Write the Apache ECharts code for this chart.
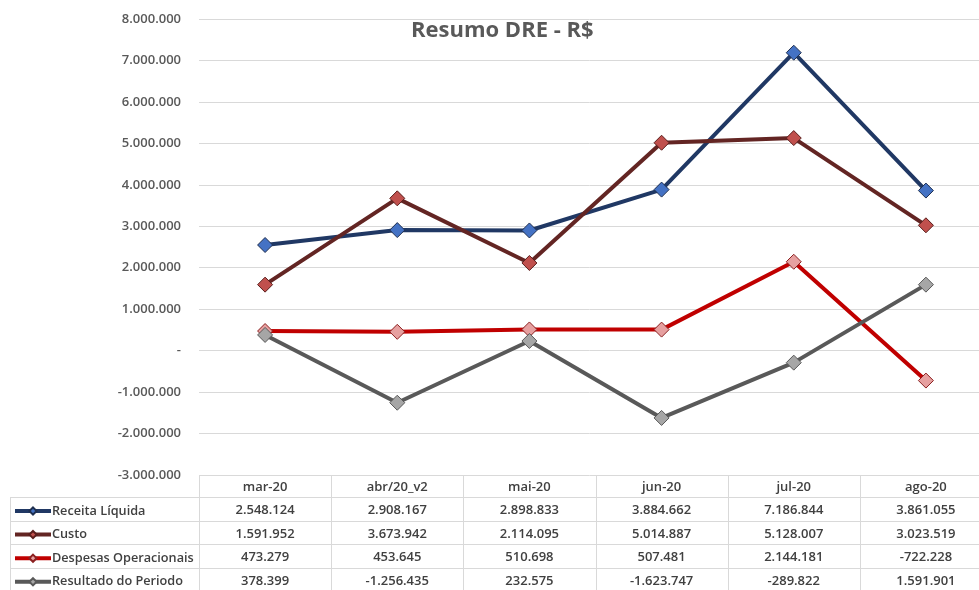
<!DOCTYPE html>
<html>
<head>
<meta charset="utf-8">
<script src="https://cdn.jsdelivr.net/npm/echarts@6/dist/echarts.min.js"></script>
<style>html,body{margin:0;padding:0;background:#fff;}#c{width:979px;height:590px;}</style>
</head>
<body>
<div id="c"></div>
<script>
const categories = ['mar-20', 'abr/20_v2', 'mai-20', 'jun-20', 'jul-20', 'ago-20'];
const seriesNames = ['Receita Líquida', 'Custo', 'Despesas Operacionais', 'Resultado do Periodo'];
const receita = [2548124, 2908167, 2898833, 3884662, 7186844, 3861055];
const custo = [1591952, 3673942, 2114095, 5014887, 5128007, 3023519];
const despesas = [473279, 453645, 510698, 507481, 2144181, -722228];
const resultado = [378399, -1256435, 232575, -1623747, -289822, 1591901];
const yMin = -3000000, yMax = 8000000, yInterval = 1000000;
const titleText = 'Resumo DRE - R$';

const allSeries = [receita, custo, despesas, resultado];
const lineColors = ['#203864', '#632523', '#C00000', '#595959'];
const markerFill = ['#4472C4', '#C0504D', '#E6A0A0', '#A6A6A6'];
const markerBorder = ['#1F2F4F', '#5A1E1C', '#8B2020', '#595959'];
const FONT = 'Open Sans';
const ROW = 23.6;
const LEG_H = 9;

function fmt(v) {
  if (v === 0) return '-';
  const s = Math.abs(v).toString().replace(/\B(?=(\d{3})+(?!\d))/g, '.');
  return (v < 0 ? '-' : '') + s;
}

const chart = echarts.init(document.getElementById('c'));
const option = {
  animation: false,
  backgroundColor: '#fff',
  title: {
    text: titleText, left: 406, top: 15,
    textStyle: { fontFamily: FONT, fontSize: 22, fontWeight: 'bold', color: '#595959' }
  },
  grid: { left: 199, top: 19, width: 793, height: 456, containLabel: false, outerBoundsMode: 'none' },
  legend: seriesNames.map((n, i) => ({
    orient: 'vertical', left: 13, top: 510 + ROW * i - 5.5, padding: 0,
    itemWidth: 36, itemHeight: LEG_H,
    data: [n],
    lineStyle: { width: 4 },
    textStyle: { fontFamily: FONT, fontSize: 12.7, color: '#404040', fontWeight: 600, padding: [0, 0, 0, -4] }
  })),
  xAxis: {
    type: 'category', data: categories, boundaryGap: true,
    axisLine: { show: false }, axisTick: { show: false },
    axisLabel: {
      margin: 0, interval: 0,
      formatter: function (val, idx) {
        const lines = ['{v|' + val + '}'];
        allSeries.forEach(s => lines.push('{v|' + fmt(s[idx]) + '}'));
        return lines.join('\n');
      },
      rich: { v: { fontFamily: FONT, fontSize: 13, fontWeight: 600, color: '#404040', lineHeight: ROW, height: ROW } }
    }
  },
  yAxis: {
    type: 'value', min: yMin, max: yMax, interval: yInterval,
    axisLine: { show: false }, axisTick: { show: false },
    axisLabel: { margin: 18, formatter: fmt, fontFamily: FONT, fontSize: 13, fontWeight: 600, color: '#595959' },
    splitLine: { lineStyle: { color: '#D9D9D9', width: 1 } }
  },
  series: allSeries.map((d, i) => ({
    name: seriesNames[i], type: 'line', data: d,
    symbol: 'diamond', symbolSize: 15,
    lineStyle: { color: lineColors[i], width: 4 },
    itemStyle: { color: markerFill[i], borderColor: markerBorder[i], borderWidth: 1 },
    z: 2 + i
  }))
};
chart.setOption(option);

// table borders derived from axis scales
const yBottom = chart.convertToPixel({ yAxisIndex: 0 }, yMin);
const c0 = chart.convertToPixel({ xAxisIndex: 0 }, 0);
const c1 = chart.convertToPixel({ xAxisIndex: 0 }, 1);
const step = c1 - c0;
const gridLeft = c0 - step / 2;
const gridRight = gridLeft + step * categories.length;
const tableLeft = 10;
const tableBottom = 590;
const graphics = [];
const lineStyle = { stroke: '#D9D9D9', lineWidth: 1 };
for (let r = 1; r <= seriesNames.length; r++) {
  const y = Math.round(yBottom + ROW * r - 1.5) + 0.5;
  graphics.push({ type: 'line', shape: { x1: tableLeft, y1: y, x2: gridRight, y2: y }, style: lineStyle, silent: true });
}
for (let k = 0; k <= categories.length; k++) {
  const x = Math.round(gridLeft + step * k) + 0.5;
  graphics.push({ type: 'line', shape: { x1: x, y1: yBottom, x2: x, y2: tableBottom }, style: lineStyle, silent: true });
}
const hy = Math.round(yBottom + ROW - 1.5) + 0.5;
graphics.push({ type: 'line', shape: { x1: tableLeft + 0.5, y1: hy, x2: tableLeft + 0.5, y2: tableBottom }, style: lineStyle, silent: true });
chart.setOption({ graphic: graphics });
</script>
</body>
</html>
